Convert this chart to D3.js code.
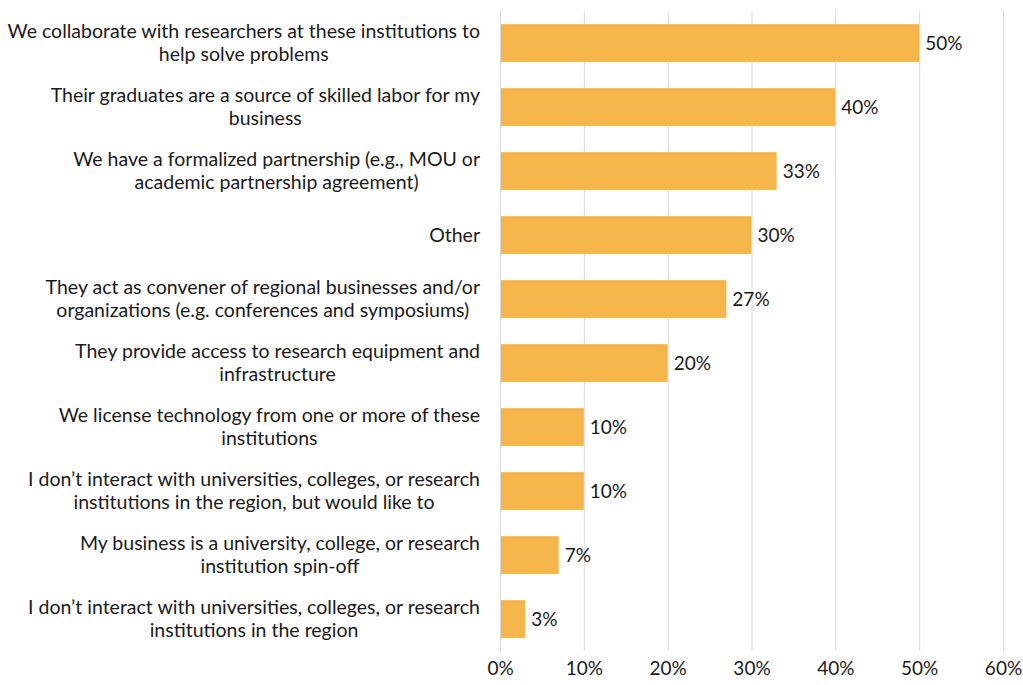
<!DOCTYPE html>
<html>
<head>
<meta charset="utf-8">
<script src="https://cdn.jsdelivr.net/npm/d3@7/dist/d3.min.js"></script>
<style>
  html, body { margin: 0; padding: 0; background: #fff; }
  svg text { font-family: Lato, "Open Sans", sans-serif; fill: #1a1a1a; }
</style>
</head>
<body>
<svg id="chart" width="1023" height="685"></svg>
<script>
// Ways businesses engage with regional universities, colleges and research institutions
const categories = [
  "We collaborate with researchers at these institutions to\nhelp solve problems",
  "Their graduates are a source of skilled labor for my\nbusiness",
  "We have a formalized partnership (e.g., MOU or\nacademic partnership agreement)",
  "Other",
  "They act as convener of regional businesses and/or\norganizations (e.g. conferences and symposiums)",
  "They provide access to research equipment and\ninfrastructure",
  "We license technology from one or more of these\ninstitutions",
  "I don\u2019t interact with universities, colleges, or research\ninstitutions in the region, but would like to",
  "My business is a university, college, or research\ninstitution spin-off",
  "I don\u2019t interact with universities, colleges, or research\ninstitutions in the region"
];
const values = [50, 40, 33, 30, 27, 20, 10, 10, 7, 3];
const xTicks = [0, 10, 20, 30, 40, 50, 60];

const svg = d3.select("#chart");
const margin = { top: 11, right: 20, bottom: 34, left: 500 };
const width = 1023, height = 685;
const fontSize = 19;
const labelFontSize = 19.5;

const x = d3.scaleLinear().domain([0, 60]).range([margin.left, 1003]);
const y = d3.scaleBand().domain(d3.range(categories.length))
  .range([margin.top, height - margin.bottom]).paddingInner(0.41).paddingOuter(0.205);

// vertical gridlines
svg.append("g").selectAll("line").data(xTicks).join("line")
  .attr("x1", d => x(d) + 0.5).attr("x2", d => x(d) + 0.5)
  .attr("y1", margin.top).attr("y2", height - margin.bottom)
  .attr("stroke", "#d9d9d9").attr("stroke-width", 1);

// bars
svg.append("g").selectAll("rect").data(values).join("rect")
  .attr("x", x(0) + 1)
  .attr("y", (d, i) => y(i))
  .attr("width", d => Math.max(0, x(d) - x(0) - 1))
  .attr("height", y.bandwidth())
  .attr("fill", "#f4b54a");

// value labels
svg.append("g").selectAll("text").data(values).join("text")
  .attr("x", d => x(d) + 6)
  .attr("y", (d, i) => y(i) + y.bandwidth() / 2)
  .attr("dy", "0.35em")
  .attr("font-size", fontSize)
  .text(d => d + "%");

// x axis tick labels
const xAxis = d3.axisBottom(x).tickValues(xTicks).tickSize(0).tickPadding(0)
  .tickFormat(d => d + "%");
const gx = svg.append("g").attr("transform", `translate(0,${height - 17})`).call(xAxis);
gx.select(".domain").remove();
gx.selectAll("text").attr("font-size", fontSize).attr("dy", "0.35em").attr("y", 0)
  .style("font-family", "Lato, 'Open Sans', sans-serif").attr("fill", "#1a1a1a");

// category labels: lines centred on each other, block right-aligned to the axis
const labelRight = 480;
const lineH = 23;
const lg = svg.append("g");
categories.forEach((c, i) => {
  const lines = c.split("\n");
  const cy = y(i) + y.bandwidth() / 2;
  const t = lg.append("text").attr("font-size", labelFontSize).attr("text-anchor", "middle");
  const spans = lines.map((ln, k) => t.append("tspan")
    .attr("y", cy + (k - (lines.length - 1) / 2) * lineH)
    .attr("dy", "0.35em").text(ln));
  let maxW = 0;
  spans.forEach(s => { maxW = Math.max(maxW, s.node().getComputedTextLength()); });
  spans.forEach(s => s.attr("x", labelRight - maxW / 2));
});
</script>
</body>
</html>
